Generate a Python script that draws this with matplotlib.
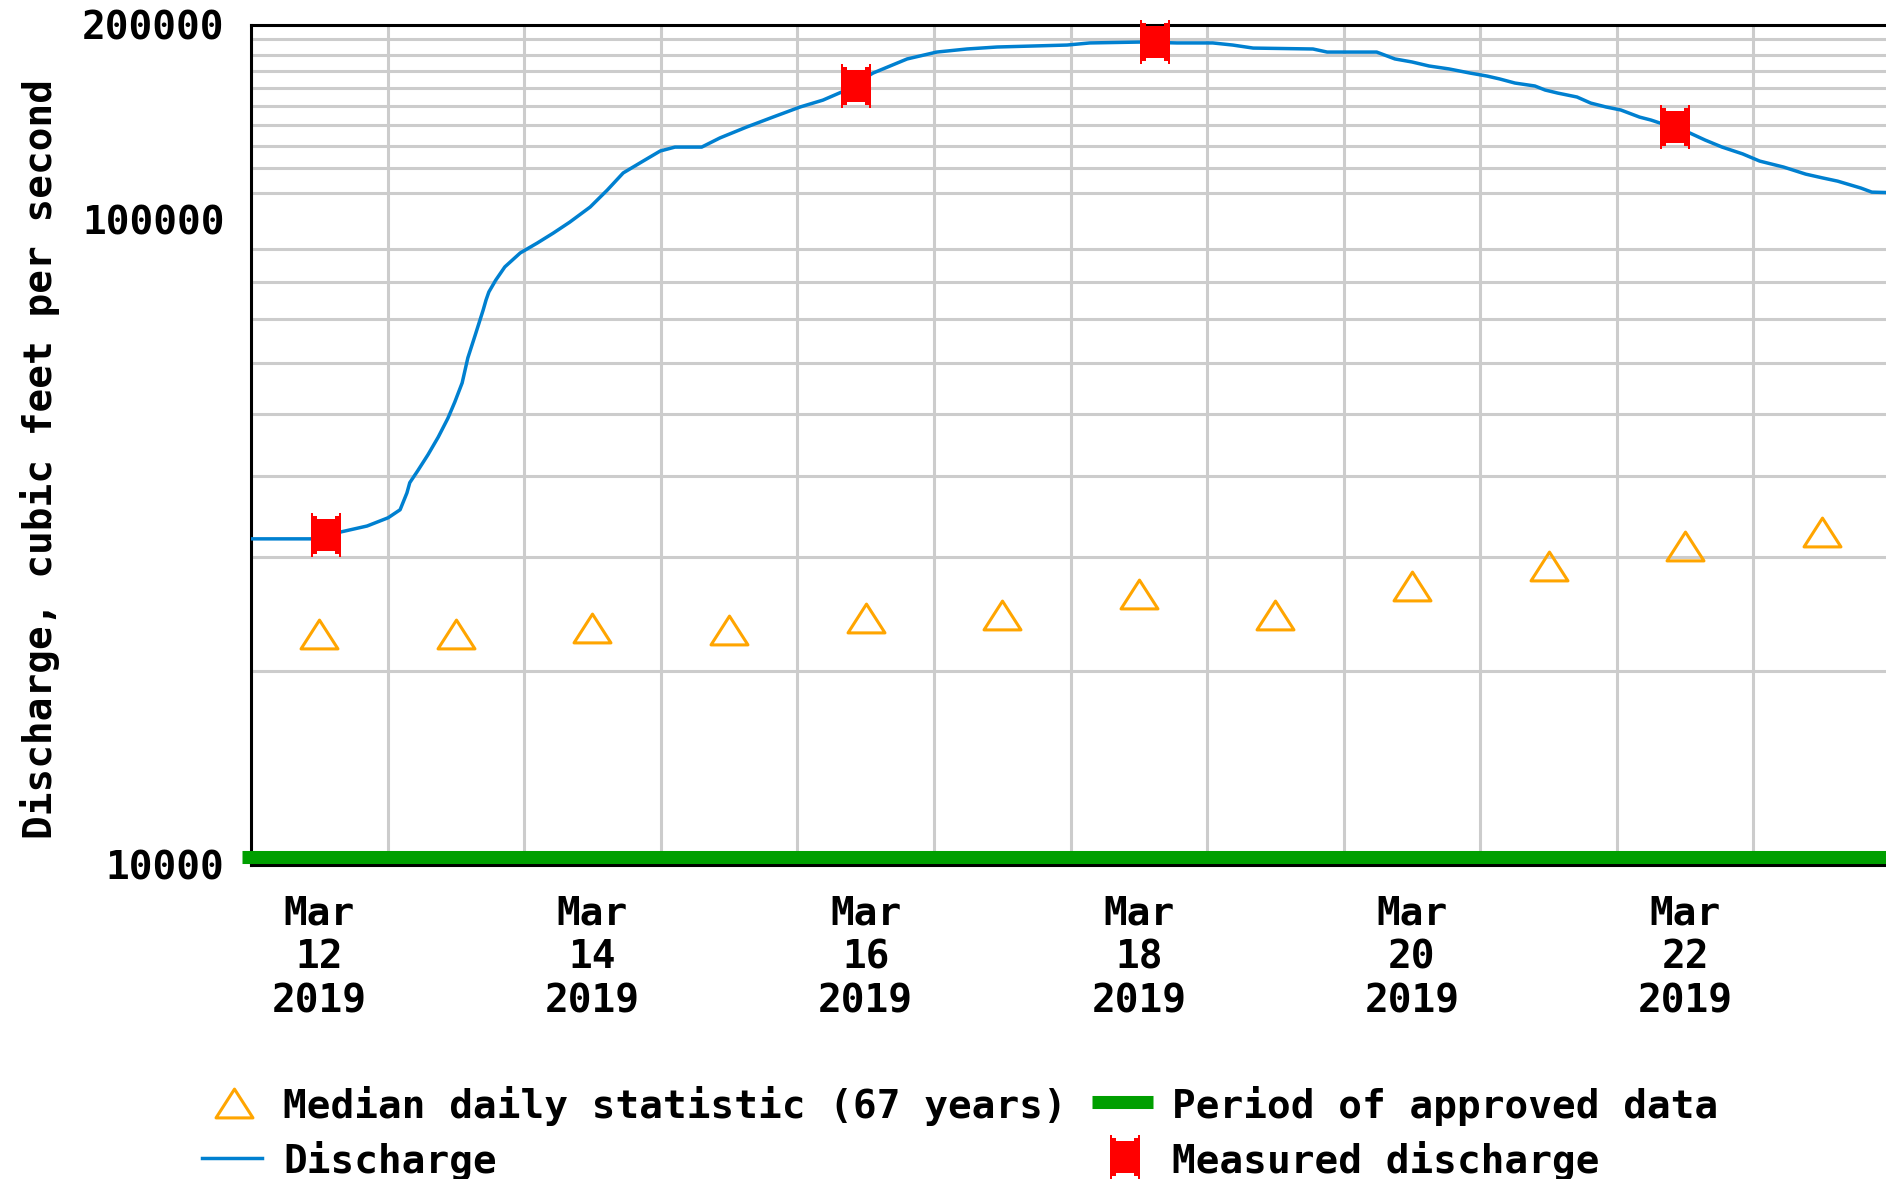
import matplotlib
matplotlib.use('Agg')
import matplotlib.pyplot as plt
import matplotlib.dates as mdates
from matplotlib.path import Path
from matplotlib.ticker import FixedLocator, NullFormatter
import numpy as np
import pandas as pd

# Données (heures depuis le 12 mars 2019 00:00)
start = pd.Timestamp("2019-03-12 00:00")

discharge_hours = [0, 10.5, 15.8, 20.4, 24.1, 26.2, 27.4, 27.9, 29.3, 31.1,
                   32.9, 34.6, 35.8, 37.1, 38.1, 39.4, 40.8, 41.3, 41.8, 43.0,
                   44.6, 47.3, 50.3, 53.1, 56.0, 59.6, 62.6, 65.4, 68.9, 71.9,
                   74.5, 79.2, 82.4, 87.1, 91.7, 96.5, 100.5, 103.8, 109.3, 112.3,
                   115.3, 120.5, 125.8, 131.1, 143.4, 147.4, 156.2, 162.7, 169.0, 172.5,
                   176.1, 186.6, 189.1, 197.8, 201.0, 204.0, 207.0, 210.5, 214.2, 217.2,
                   219.4, 222.1, 225.6, 227.4, 229.6, 233.0, 235.4, 238.1, 240.7, 244.0,
                   246.0, 252.8, 255.5, 258.5, 262.1, 265.1, 269.3, 273.2, 276.2, 278.8,
                   282.9, 284.8, 288.0]
discharge_cfs = [32000, 32000, 32800, 33500, 34500, 35500, 37700, 39100, 40800, 43200,
                 46000, 49200, 52100, 55800, 61000, 66200, 72400, 75000, 77200, 80500,
                 84400, 88700, 91900, 95200, 99000, 104500, 111000, 118000, 123100, 127600,
                 129400, 129400, 133700, 139000, 144000, 149300, 153000, 157500, 168500, 172800,
                 177200, 181600, 183600, 184900, 186200, 187600, 188200, 187600, 187600, 186200,
                 184200, 183600, 181600, 181600, 177200, 175300, 172800, 171000, 168500, 166700,
                 165000, 162600, 160900, 158600, 156900, 154700, 151400, 149300, 147700, 144000,
                 142500, 136100, 132700, 129400, 126300, 123100, 120500, 117500, 115900, 114600,
                 111800, 110200, 110000]

measured_hours = [13.2, 106.3, 158.8, 250.2]
measured_cfs = [32400, 161000, 188000, 139000]

median_days = ["2019-03-12", "2019-03-13", "2019-03-14", "2019-03-15", "2019-03-16",
               "2019-03-17", "2019-03-18", "2019-03-19", "2019-03-20", "2019-03-21",
               "2019-03-22", "2019-03-23"]
median_cfs = [22800, 22800, 23300, 23100, 24100, 24400, 26300, 24400, 27000, 29000,
              31200, 32800]

label_days = ["2019-03-12", "2019-03-14", "2019-03-16", "2019-03-18", "2019-03-20", "2019-03-22"]
ytick_vals = [10000, 100000, 200000]
ygrid_vals = list(range(20000, 200000, 10000))

approved_start = pd.Timestamp("2019-03-11 22:30")
approved_end = pd.Timestamp("2019-03-24 00:00")
x_end = pd.Timestamp("2019-03-24 00:00")

# Couleurs
BLUE = "#0080D0"
ORANGE = "#FFA500"
RED = "#FF0000"
GREEN = "#009F00"
GRID = "#CCCCCC"

plt.rcParams['font.family'] = ['DejaVu Sans Mono']
plt.rcParams['font.weight'] = 'bold'
FS = 28.4

# Marqueurs personnalisés
tri_path = Path([(-0.5, -0.39), (0.5, -0.39), (0.0, 0.39), (-0.5, -0.39)], closed=True)
meas_verts = [(-0.5, -0.75), (-0.43, -0.75), (-0.43, -0.64), (-0.32, -0.64), (-0.32, -0.54),
              (0.32, -0.54), (0.32, -0.64), (0.43, -0.64), (0.43, -0.75), (0.5, -0.75),
              (0.5, 0.75), (0.43, 0.75), (0.43, 0.64), (0.32, 0.64), (0.32, 0.54),
              (-0.32, 0.54), (-0.32, 0.64), (-0.43, 0.64), (-0.43, 0.75), (-0.5, 0.75),
              (-0.5, -0.75)]
meas_path = Path(meas_verts, closed=True)

W, H = 1886, 1179
fig = plt.figure(figsize=(W / 100, H / 100), dpi=100)
fig.patch.set_facecolor('white')

# Zone du graphique (dépasse à droite comme l'original)
left_px, right_px, top_px, bottom_px = 251, 1890, 25, 865
ax = fig.add_axes([left_px / W, 1 - bottom_px / H, (right_px - left_px) / W, (bottom_px - top_px) / H])

t_dis = start + pd.to_timedelta(discharge_hours, unit='h')
t_meas = start + pd.to_timedelta(measured_hours, unit='h')
t_med = pd.to_datetime(median_days) + pd.Timedelta(hours=12)

ax.set_yscale('log')
ax.set_ylim(10000, 200000)
ax.set_xlim(start, x_end)

# Grille
ax.yaxis.set_major_locator(FixedLocator(ytick_vals))
ax.yaxis.set_minor_locator(FixedLocator(ygrid_vals))
ax.yaxis.set_minor_formatter(NullFormatter())
ax.set_yticklabels([str(v) for v in ytick_vals])
ax.xaxis.set_major_locator(mdates.DayLocator())
ax.xaxis.set_major_formatter(NullFormatter())
ax.set_xticks(pd.to_datetime(label_days) + pd.Timedelta(hours=12), minor=True)
ax.set_xticklabels([pd.Timestamp(d).strftime("%b\n%d\n%Y") for d in label_days], minor=True)

ax.grid(axis='y', which='minor', color=GRID, linewidth=2.2)
ax.grid(axis='x', which='major', color=GRID, linewidth=2.2)
ax.set_axisbelow(True)
ax.tick_params(which='both', length=0)
ax.tick_params(axis='y', which='major', pad=19, labelsize=FS)
ax.tick_params(axis='x', which='minor', pad=21, labelsize=FS)
for lab in ax.get_xticklabels(minor=True):
    lab.set_linespacing(1.21)
    lab.set_fontweight('bold')
for lab in ax.get_yticklabels():
    lab.set_fontweight('bold')

for side in ['left', 'top', 'bottom']:
    ax.spines[side].set_linewidth(2.2)
    ax.spines[side].set_color('black')
ax.spines['right'].set_visible(False)

# Période de données approuvées
ax.plot([approved_start, approved_end], [0.0101, 0.0101], color=GREEN, linewidth=9.4,
        solid_capstyle='butt', transform=ax.get_xaxis_transform(), clip_on=False, zorder=3)

# Séries
ax.plot(t_dis, discharge_cfs, color=BLUE, linewidth=2.5, zorder=4)
ax.plot(t_med, median_cfs, linestyle='none', marker=tri_path, markersize=26.6,
        markerfacecolor='none', markeredgecolor=ORANGE, markeredgewidth=2.2, zorder=5)
ax.plot(t_meas, measured_cfs, linestyle='none', marker=meas_path, markersize=31.7,
        markerfacecolor=RED, markeredgewidth=0, zorder=6, clip_on=False)

# Titre de l'axe Y
fig.text(40 / W, 1 - 459 / H, "Discharge, cubic feet per second", rotation=90,
         ha='center', va='center', fontsize=FS, fontweight='bold')

# Légende dessinée à la main (coordonnées en pixels)
leg = fig.add_axes([0, 0, 1, 1])
leg.set_xlim(0, W)
leg.set_ylim(H, 0)
leg.axis('off')
leg.plot([234], [1103], marker=tri_path, markersize=26.6, markerfacecolor='none',
         markeredgecolor=ORANGE, markeredgewidth=2.2, linestyle='none')
leg.plot([202, 262], [1158, 1158], color=BLUE, linewidth=2.5)
leg.plot([1092, 1153], [1102, 1102], color=GREEN, linewidth=9.4, solid_capstyle='butt')
leg.plot([1125], [1157], marker=meas_path, markersize=31.7, markerfacecolor=RED,
         markeredgewidth=0, linestyle='none')
leg.text(283, 1118, "Median daily statistic (67 years)", fontsize=FS, fontweight='bold', va='baseline')
leg.text(283, 1173, "Discharge", fontsize=FS, fontweight='bold', va='baseline')
leg.text(1172, 1118, "Period of approved data", fontsize=FS, fontweight='bold', va='baseline')
leg.text(1172, 1173, "Measured discharge", fontsize=FS, fontweight='bold', va='baseline')

plt.savefig("out.png", dpi=100, facecolor='white')
plt.close()
